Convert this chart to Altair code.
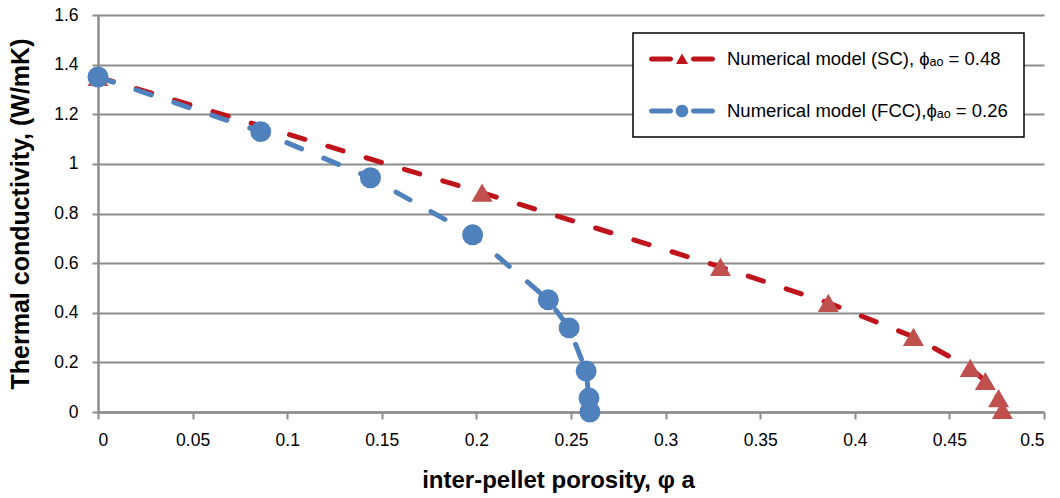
import altair as alt
import pandas as pd

# ---- data ----
x_sc = [0.0, 0.203, 0.329, 0.386, 0.431, 0.461, 0.469, 0.476, 0.478]
y_sc = [1.35, 0.884, 0.585, 0.44, 0.303, 0.178, 0.125, 0.056, 0.008]
x_fcc = [0.0, 0.086, 0.144, 0.198, 0.238, 0.249, 0.258, 0.2595, 0.260]
y_fcc = [1.35, 1.13, 0.944, 0.714, 0.452, 0.339, 0.165, 0.056, 0.0]

series_labels = ["Numerical model (SC), ϕₐₒ = 0.48",
                 "Numerical model (FCC),ϕₐₒ = 0.26"]
x_ticks = [0, 0.05, 0.1, 0.15, 0.2, 0.25, 0.3, 0.35, 0.4, 0.45, 0.5]
y_ticks = [0, 0.2, 0.4, 0.6, 0.8, 1.0, 1.2, 1.4, 1.6]

x_title = "inter-pellet porosity, φ a"
y_title = "Thermal conductivity, (W/mK)"

FONT = "Liberation Sans"
RED_LINE = "#C0141C"
RED_MARK = "#C0504D"
BLUE = "#4F81BD"
GRID = "#8C8C8C"

sc = pd.DataFrame({"x": x_sc, "y": y_sc, "series": series_labels[0],
                   "order": list(range(len(x_sc)))})
fcc = pd.DataFrame({"x": x_fcc, "y": y_fcc, "series": series_labels[1],
                    "order": list(range(len(x_fcc)))})
both = pd.concat([sc, fcc], ignore_index=True)

x_enc = alt.X("x:Q",
              scale=alt.Scale(domain=[0, 0.5], nice=False, zero=False),
              axis=alt.Axis(values=x_ticks, format="~g", grid=False,
                            title=x_title, tickSize=7, labelPadding=12,
                            titlePadding=20, titleFontSize=24, titleX=460))
y_enc = alt.Y("y:Q",
              scale=alt.Scale(domain=[0, 1.6], nice=False),
              axis=alt.Axis(values=y_ticks, format="~g", grid=True,
                            title=y_title, tickSize=6, labelPadding=14,
                            titlePadding=20, titleFontSize=25))

def line_layer(df, color):
    return alt.Chart(df).mark_line(
        color=color, strokeWidth=5, strokeDash=[16, 24], strokeCap="round"
    ).encode(x=x_enc, y=y_enc, order="order:Q")

def point_layer(df, color, shape):
    return alt.Chart(df).mark_point(
        filled=True, opacity=1, color=color, shape=shape, size=440
    ).encode(x=x_enc, y=y_enc)

# custom legend symbols: dash - marker - dash (unit = 10 px)
dash_l = ("M-3.05,-0.25 L-1.15,-0.25 A0.25,0.25 0 0 1 -1.15,0.25 "
          "L-3.05,0.25 A0.25,0.25 0 0 1 -3.05,-0.25 Z ")
dash_r = ("M1.15,-0.25 L3.05,-0.25 A0.25,0.25 0 0 1 3.05,0.25 "
          "L1.15,0.25 A0.25,0.25 0 0 1 1.15,-0.25 Z ")
tri = "M-0.6,0.5 L0,-0.55 L0.6,0.5 Z"
circ = "M-0.63,0 A0.63,0.63 0 1 0 0.63,0 A0.63,0.63 0 1 0 -0.63,0 Z"
sym_sc = dash_l + dash_r + tri
sym_fcc = dash_l + dash_r + circ

leg = alt.Legend(title=None, orient="none", legendX=535, legendY=18,
                 strokeColor="black", fillColor="white", padding=16,
                 labelFont=FONT, labelFontSize=18.5, labelColor="black",
                 labelOffset=35, symbolOffset=23, symbolSize=400,
                 symbolOpacity=1, symbolStrokeWidth=0, rowPadding=32,
                 cornerRadius=0, labelLimit=400)

legend_layer = alt.Chart(both).mark_point(filled=True, opacity=0).encode(
    x=x_enc, y=y_enc,
    color=alt.Color("series:N",
                    scale=alt.Scale(domain=series_labels, range=[RED_LINE, BLUE]),
                    legend=leg),
    shape=alt.Shape("series:N",
                    scale=alt.Scale(domain=series_labels, range=[sym_sc, sym_fcc]),
                    legend=leg),
)

chart = alt.layer(
    legend_layer,
    line_layer(sc, RED_LINE),
    point_layer(sc, RED_MARK, "triangle-up"),
    line_layer(fcc, BLUE),
    point_layer(fcc, BLUE, "circle"),
).properties(
    width=946, height=397,
    autosize=alt.AutoSizeParams(type="none"),
    padding={"left": 98, "top": 15, "right": 16, "bottom": 86},
    background="white",
).configure_view(stroke=None).configure_axis(
    labelFont=FONT, labelFontSize=17.5, labelColor="black",
    titleFont=FONT, titleFontWeight="bold", titleColor="black",
    domainColor=GRID, domainWidth=2.5, tickColor=GRID, tickWidth=2,
    gridColor=GRID, gridWidth=2,
).configure_legend(strokeWidth=1.5)

chart.save("out.html", embed_options={"renderer": "svg", "actions": False})
